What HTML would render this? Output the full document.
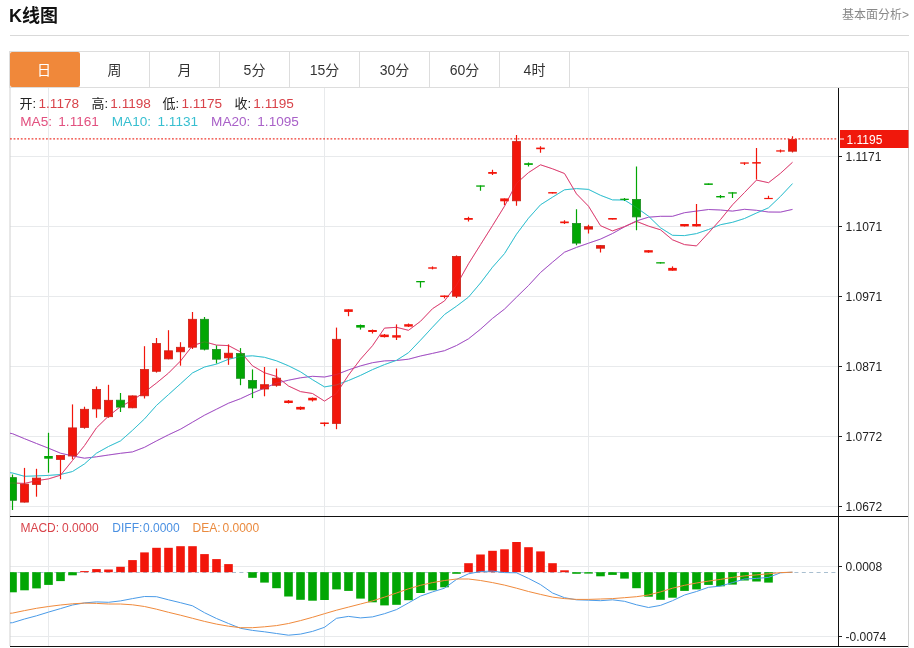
<!DOCTYPE html>
<html lang="zh-CN"><head><meta charset="utf-8"><title>K线图</title>
<style>
html,body{margin:0;padding:0;background:#fff;}
body{width:914px;height:648px;position:relative;overflow:hidden;font-family:"Liberation Sans","Noto Sans CJK SC",sans-serif;}
.title{position:absolute;left:9px;top:3.5px;font-size:18px;letter-spacing:0px;font-weight:bold;color:#111;line-height:24px;white-space:nowrap;}
.more{position:absolute;right:5px;top:6px;font-size:12px;color:#888;line-height:18px;white-space:nowrap;}
.hr{position:absolute;left:10px;top:35px;width:899px;height:1px;background:#d9d9d9;}
.tabs{position:absolute;left:9px;top:51px;width:898px;height:35px;border:1px solid #ddd;box-sizing:content-box;}
.tab{position:absolute;top:0;width:69px;height:35px;border-right:1px solid #ddd;text-align:center;line-height:36px;font-size:14px;color:#333;}
.tab.on{background:#f0883a;color:#fff;width:68px;padding-right:2px;border-right:none;left:0;border-radius:2px;}
</style></head><body>
<div class="title">K线图</div>
<div class="more">基本面分析&gt;</div>
<div class="hr"></div>
<svg width="914" height="648" viewBox="0 0 914 648" style="position:absolute;left:0;top:0">
<defs><clipPath id="cp"><rect x="10" y="88" width="828.5" height="560"/></clipPath></defs>
<g stroke="#e8eaec" stroke-width="1" shape-rendering="crispEdges">
<line x1="10" x2="838" y1="156.5" y2="156.5"/>
<line x1="10" x2="838" y1="226.5" y2="226.5"/>
<line x1="10" x2="838" y1="296.5" y2="296.5"/>
<line x1="10" x2="838" y1="366.5" y2="366.5"/>
<line x1="10" x2="838" y1="436.5" y2="436.5"/>
<line x1="10" x2="838" y1="506.5" y2="506.5"/>
<line x1="10" x2="838" y1="566.5" y2="566.5"/>
<line x1="10" x2="838" y1="636.5" y2="636.5"/>
<line x1="48.5" x2="48.5" y1="88" y2="646"/>
<line x1="324.5" x2="324.5" y1="88" y2="646"/>
<line x1="588.5" x2="588.5" y1="88" y2="646"/>
</g>
<g stroke="#d0d0d0" stroke-width="1"><line x1="10" x2="10" y1="87" y2="646"/><line x1="908.5" x2="908.5" y1="87" y2="648"/></g>
<line x1="10" x2="838" y1="572.5" y2="572.5" stroke="#a9bfd0" stroke-width="1" stroke-dasharray="4,3.4"/>
<g clip-path="url(#cp)">
<polyline points="0.5,431.5 12.5,433.7 24.5,438.7 36.5,443.5 48.5,448.2 60.5,453.2 72.5,455.9 84.5,458.2 96.5,456.8 108.5,455.0 120.5,453.3 132.5,451.9 144.5,447.3 156.5,440.9 168.5,434.8 180.5,429.2 192.5,422.2 204.5,415.2 216.5,409.2 228.5,403.2 240.5,398.7 252.5,393.1 264.5,388.1 276.5,383.1 288.5,380.2 300.5,377.8 312.5,376.3 324.5,377.0 336.5,374.5 348.5,369.9 360.5,365.9 372.5,362.7 384.5,360.9 396.5,360.5 408.5,359.2 420.5,356.0 432.5,353.4 444.5,350.7 456.5,345.5 468.5,338.8 480.5,329.2 492.5,318.4 504.5,309.1 516.5,297.2 528.5,285.5 540.5,272.5 552.5,262.2 564.5,252.2 576.5,247.4 588.5,243.2 600.5,239.1 612.5,233.5 624.5,226.8 636.5,220.9 648.5,217.2 660.5,216.3 672.5,216.3 684.5,212.7 696.5,211.1 708.5,209.5 720.5,210.0 732.5,211.1 744.5,209.3 756.5,210.3 768.5,212.0 780.5,212.1 792.5,209.4" fill="none" stroke="#a352c4" stroke-width="1.0" stroke-linejoin="round"/>
<polyline points="0.5,471.5 12.5,473.0 24.5,476.3 36.5,475.9 48.5,475.4 60.5,474.5 72.5,471.5 84.5,463.9 96.5,453.2 108.5,446.5 120.5,440.9 132.5,430.3 144.5,418.9 156.5,405.4 168.5,394.6 180.5,383.8 192.5,372.9 204.5,367.0 216.5,364.1 228.5,359.3 240.5,356.5 252.5,355.8 264.5,357.3 276.5,360.8 288.5,365.8 300.5,371.8 312.5,379.7 324.5,386.9 336.5,384.9 348.5,380.5 360.5,375.4 372.5,369.6 384.5,364.6 396.5,360.3 408.5,352.7 420.5,340.2 432.5,327.2 444.5,314.5 456.5,306.2 468.5,297.1 480.5,283.0 492.5,267.2 504.5,253.6 516.5,234.2 528.5,218.2 540.5,204.8 552.5,197.2 564.5,189.8 576.5,188.6 588.5,189.4 600.5,195.3 612.5,199.9 624.5,200.0 636.5,207.6 648.5,216.2 660.5,227.8 672.5,235.3 684.5,235.6 696.5,233.6 708.5,229.5 720.5,224.7 732.5,222.3 744.5,218.5 756.5,213.0 768.5,207.8 780.5,196.4 792.5,183.6" fill="none" stroke="#35c0d0" stroke-width="1.0" stroke-linejoin="round"/>
<polyline points="0.5,483.0 12.5,483.0 24.5,483.4 36.5,480.7 48.5,478.9 60.5,475.2 72.5,460.5 84.5,445.6 96.5,427.8 108.5,416.1 120.5,406.6 132.5,400.2 144.5,392.2 156.5,383.0 168.5,373.1 180.5,361.0 192.5,345.7 204.5,341.8 216.5,345.1 228.5,345.6 240.5,351.9 252.5,365.8 264.5,372.8 276.5,376.4 288.5,386.0 300.5,391.6 312.5,393.5 324.5,401.1 336.5,393.3 348.5,375.1 360.5,359.2 372.5,345.7 384.5,328.1 396.5,327.3 408.5,330.3 420.5,321.3 432.5,308.7 444.5,300.9 456.5,285.1 468.5,263.8 480.5,244.7 492.5,225.6 504.5,206.2 516.5,183.3 528.5,172.6 540.5,164.8 552.5,168.8 564.5,173.5 576.5,193.9 588.5,206.2 600.5,225.7 612.5,230.9 624.5,226.6 636.5,221.4 648.5,226.1 660.5,229.8 672.5,239.8 684.5,244.6 696.5,245.9 708.5,232.9 720.5,219.6 732.5,204.8 744.5,192.5 756.5,180.1 768.5,182.7 780.5,173.3 792.5,162.3" fill="none" stroke="#dc4273" stroke-width="1.0" stroke-linejoin="round"/>
<line x1="12.5" x2="12.5" y1="474.5" y2="510.0" stroke="#02a604" stroke-width="1.2"/>
<rect x="8.4" y="477.6" width="8.2" height="22.7" fill="#02a604" stroke="#1d8d24" stroke-width="0.8"/>
<line x1="24.5" x2="24.5" y1="467.9" y2="502.5" stroke="#f2160b" stroke-width="1.2"/>
<rect x="20.4" y="484.1" width="8.2" height="18.0" fill="#f2160b" stroke="#c8241a" stroke-width="0.8"/>
<line x1="36.5" x2="36.5" y1="468.8" y2="496.7" stroke="#f2160b" stroke-width="1.2"/>
<rect x="32.4" y="478.1" width="8.2" height="6.3" fill="#f2160b" stroke="#c8241a" stroke-width="0.8"/>
<line x1="48.5" x2="48.5" y1="432.8" y2="472.7" stroke="#02a604" stroke-width="1.2"/>
<rect x="44.2" y="456.0" width="8.6" height="2.7" fill="#02a604"/>
<line x1="60.5" x2="60.5" y1="455.0" y2="479.3" stroke="#f2160b" stroke-width="1.2"/>
<rect x="56.4" y="455.4" width="8.2" height="4.0" fill="#f2160b" stroke="#c8241a" stroke-width="0.8"/>
<line x1="72.5" x2="72.5" y1="404.4" y2="459.4" stroke="#f2160b" stroke-width="1.2"/>
<rect x="68.4" y="427.9" width="8.2" height="28.1" fill="#f2160b" stroke="#c8241a" stroke-width="0.8"/>
<line x1="84.5" x2="84.5" y1="406.7" y2="428.7" stroke="#f2160b" stroke-width="1.2"/>
<rect x="80.4" y="409.3" width="8.2" height="18.1" fill="#f2160b" stroke="#c8241a" stroke-width="0.8"/>
<line x1="96.5" x2="96.5" y1="386.5" y2="417.8" stroke="#f2160b" stroke-width="1.2"/>
<rect x="92.4" y="389.4" width="8.2" height="19.5" fill="#f2160b" stroke="#c8241a" stroke-width="0.8"/>
<line x1="108.5" x2="108.5" y1="384.8" y2="417.8" stroke="#f2160b" stroke-width="1.2"/>
<rect x="104.4" y="400.3" width="8.2" height="16.4" fill="#f2160b" stroke="#c8241a" stroke-width="0.8"/>
<line x1="120.5" x2="120.5" y1="393.0" y2="412.0" stroke="#02a604" stroke-width="1.2"/>
<rect x="116.4" y="400.2" width="8.2" height="6.9" fill="#02a604" stroke="#1d8d24" stroke-width="0.8"/>
<line x1="132.5" x2="132.5" y1="395.5" y2="408.2" stroke="#f2160b" stroke-width="1.2"/>
<rect x="128.4" y="395.9" width="8.2" height="11.9" fill="#f2160b" stroke="#c8241a" stroke-width="0.8"/>
<line x1="144.5" x2="144.5" y1="346.2" y2="398.5" stroke="#f2160b" stroke-width="1.2"/>
<rect x="140.4" y="369.5" width="8.2" height="26.3" fill="#f2160b" stroke="#c8241a" stroke-width="0.8"/>
<line x1="156.5" x2="156.5" y1="338.0" y2="372.6" stroke="#f2160b" stroke-width="1.2"/>
<rect x="152.4" y="343.5" width="8.2" height="27.8" fill="#f2160b" stroke="#c8241a" stroke-width="0.8"/>
<line x1="168.5" x2="168.5" y1="330.2" y2="359.3" stroke="#f2160b" stroke-width="1.2"/>
<rect x="164.4" y="350.8" width="8.2" height="8.1" fill="#f2160b" stroke="#c8241a" stroke-width="0.8"/>
<line x1="180.5" x2="180.5" y1="342.2" y2="365.7" stroke="#f2160b" stroke-width="1.2"/>
<rect x="176.4" y="347.3" width="8.2" height="4.5" fill="#f2160b" stroke="#c8241a" stroke-width="0.8"/>
<line x1="192.5" x2="192.5" y1="312.0" y2="349.0" stroke="#f2160b" stroke-width="1.2"/>
<rect x="188.4" y="319.3" width="8.2" height="27.9" fill="#f2160b" stroke="#c8241a" stroke-width="0.8"/>
<line x1="204.5" x2="204.5" y1="317.0" y2="350.4" stroke="#02a604" stroke-width="1.2"/>
<rect x="200.4" y="319.3" width="8.2" height="29.9" fill="#02a604" stroke="#1d8d24" stroke-width="0.8"/>
<line x1="216.5" x2="216.5" y1="345.4" y2="363.5" stroke="#02a604" stroke-width="1.2"/>
<rect x="212.4" y="349.4" width="8.2" height="9.8" fill="#02a604" stroke="#1d8d24" stroke-width="0.8"/>
<line x1="228.5" x2="228.5" y1="344.4" y2="364.8" stroke="#f2160b" stroke-width="1.2"/>
<rect x="224.4" y="353.2" width="8.2" height="4.7" fill="#f2160b" stroke="#c8241a" stroke-width="0.8"/>
<line x1="240.5" x2="240.5" y1="348.1" y2="385.2" stroke="#02a604" stroke-width="1.2"/>
<rect x="236.4" y="353.5" width="8.2" height="24.8" fill="#02a604" stroke="#1d8d24" stroke-width="0.8"/>
<line x1="252.5" x2="252.5" y1="369.4" y2="398.1" stroke="#02a604" stroke-width="1.2"/>
<rect x="248.4" y="380.4" width="8.2" height="7.7" fill="#02a604" stroke="#1d8d24" stroke-width="0.8"/>
<line x1="264.5" x2="264.5" y1="367.0" y2="396.3" stroke="#f2160b" stroke-width="1.2"/>
<rect x="260.4" y="384.7" width="8.2" height="4.3" fill="#f2160b" stroke="#c8241a" stroke-width="0.8"/>
<line x1="276.5" x2="276.5" y1="368.5" y2="386.7" stroke="#f2160b" stroke-width="1.2"/>
<rect x="272.4" y="378.2" width="8.2" height="7.1" fill="#f2160b" stroke="#c8241a" stroke-width="0.8"/>
<line x1="288.5" x2="288.5" y1="400.0" y2="403.5" stroke="#f2160b" stroke-width="1.2"/>
<rect x="284.2" y="400.6" width="8.6" height="2.4" fill="#f2160b"/>
<line x1="300.5" x2="300.5" y1="406.5" y2="410.0" stroke="#f2160b" stroke-width="1.2"/>
<rect x="296.2" y="406.9" width="8.6" height="2.6" fill="#f2160b"/>
<line x1="312.5" x2="312.5" y1="397.5" y2="401.5" stroke="#f2160b" stroke-width="1.2"/>
<rect x="308.2" y="397.8" width="8.6" height="2.6" fill="#f2160b"/>
<line x1="324.5" x2="324.5" y1="422.5" y2="426.3" stroke="#f2160b" stroke-width="1.2"/>
<rect x="320.2" y="422.5" width="8.6" height="1.5" fill="#f2160b"/>
<line x1="336.5" x2="336.5" y1="327.6" y2="429.2" stroke="#f2160b" stroke-width="1.2"/>
<rect x="332.4" y="339.3" width="8.2" height="84.1" fill="#f2160b" stroke="#c8241a" stroke-width="0.8"/>
<line x1="348.5" x2="348.5" y1="309.3" y2="316.2" stroke="#f2160b" stroke-width="1.2"/>
<rect x="344.2" y="309.3" width="8.6" height="2.6" fill="#f2160b"/>
<line x1="360.5" x2="360.5" y1="324.5" y2="329.6" stroke="#02a604" stroke-width="1.2"/>
<rect x="356.2" y="325.0" width="8.6" height="2.6" fill="#02a604"/>
<line x1="372.5" x2="372.5" y1="329.5" y2="333.5" stroke="#f2160b" stroke-width="1.2"/>
<rect x="368.2" y="330.0" width="8.6" height="2.0" fill="#f2160b"/>
<line x1="384.5" x2="384.5" y1="334.0" y2="337.5" stroke="#f2160b" stroke-width="1.2"/>
<rect x="380.2" y="334.6" width="8.6" height="2.5" fill="#f2160b"/>
<line x1="396.5" x2="396.5" y1="324.4" y2="340.0" stroke="#f2160b" stroke-width="1.2"/>
<rect x="392.2" y="335.2" width="8.6" height="2.4" fill="#f2160b"/>
<line x1="408.5" x2="408.5" y1="323.5" y2="327.0" stroke="#f2160b" stroke-width="1.2"/>
<rect x="404.2" y="324.2" width="8.6" height="2.4" fill="#f2160b"/>
<line x1="420.5" x2="420.5" y1="281.0" y2="287.6" stroke="#02a604" stroke-width="1.2"/>
<rect x="416.2" y="281.0" width="8.6" height="1.3" fill="#02a604"/>
<line x1="432.5" x2="432.5" y1="266.4" y2="269.4" stroke="#f2160b" stroke-width="1.2"/>
<rect x="428.2" y="267.3" width="8.6" height="1.4" fill="#f2160b"/>
<line x1="444.5" x2="444.5" y1="295.5" y2="298.4" stroke="#f2160b" stroke-width="1.2"/>
<rect x="440.2" y="295.5" width="8.6" height="1.5" fill="#f2160b"/>
<line x1="456.5" x2="456.5" y1="255.4" y2="298.0" stroke="#f2160b" stroke-width="1.2"/>
<rect x="452.4" y="256.4" width="8.2" height="39.8" fill="#f2160b" stroke="#c8241a" stroke-width="0.8"/>
<line x1="468.5" x2="468.5" y1="216.7" y2="221.5" stroke="#f2160b" stroke-width="1.2"/>
<rect x="464.2" y="218.0" width="8.6" height="1.8" fill="#f2160b"/>
<line x1="480.5" x2="480.5" y1="185.4" y2="190.8" stroke="#02a604" stroke-width="1.2"/>
<rect x="476.2" y="185.4" width="8.6" height="1.3" fill="#02a604"/>
<line x1="492.5" x2="492.5" y1="169.7" y2="175.0" stroke="#f2160b" stroke-width="1.2"/>
<rect x="488.2" y="172.0" width="8.6" height="1.8" fill="#f2160b"/>
<line x1="504.5" x2="504.5" y1="198.4" y2="204.9" stroke="#f2160b" stroke-width="1.2"/>
<rect x="500.2" y="198.4" width="8.6" height="2.9" fill="#f2160b"/>
<line x1="516.5" x2="516.5" y1="135.1" y2="205.7" stroke="#f2160b" stroke-width="1.2"/>
<rect x="512.4" y="141.6" width="8.2" height="59.2" fill="#f2160b" stroke="#c8241a" stroke-width="0.8"/>
<line x1="528.5" x2="528.5" y1="162.4" y2="166.4" stroke="#02a604" stroke-width="1.2"/>
<rect x="524.2" y="163.2" width="8.6" height="1.7" fill="#02a604"/>
<line x1="540.5" x2="540.5" y1="146.3" y2="152.8" stroke="#f2160b" stroke-width="1.2"/>
<rect x="536.2" y="147.6" width="8.6" height="1.6" fill="#f2160b"/>
<line x1="552.5" x2="552.5" y1="192.1" y2="193.5" stroke="#f2160b" stroke-width="1.2"/>
<rect x="548.2" y="192.1" width="8.6" height="1.4" fill="#f2160b"/>
<line x1="564.5" x2="564.5" y1="220.2" y2="224.1" stroke="#f2160b" stroke-width="1.2"/>
<rect x="560.2" y="221.5" width="8.6" height="1.7" fill="#f2160b"/>
<line x1="576.5" x2="576.5" y1="209.2" y2="245.3" stroke="#02a604" stroke-width="1.2"/>
<rect x="572.4" y="223.4" width="8.2" height="19.7" fill="#02a604" stroke="#1d8d24" stroke-width="0.8"/>
<line x1="588.5" x2="588.5" y1="224.8" y2="233.4" stroke="#f2160b" stroke-width="1.2"/>
<rect x="584.4" y="226.7" width="8.2" height="2.4" fill="#f2160b" stroke="#c8241a" stroke-width="0.8"/>
<line x1="600.5" x2="600.5" y1="245.2" y2="252.4" stroke="#f2160b" stroke-width="1.2"/>
<rect x="596.4" y="245.6" width="8.2" height="2.6" fill="#f2160b" stroke="#c8241a" stroke-width="0.8"/>
<line x1="612.5" x2="612.5" y1="218.0" y2="219.6" stroke="#f2160b" stroke-width="1.2"/>
<rect x="608.2" y="218.0" width="8.6" height="1.6" fill="#f2160b"/>
<line x1="624.5" x2="624.5" y1="197.9" y2="201.0" stroke="#02a604" stroke-width="1.2"/>
<rect x="620.2" y="198.7" width="8.6" height="1.3" fill="#02a604"/>
<line x1="636.5" x2="636.5" y1="166.6" y2="230.3" stroke="#02a604" stroke-width="1.2"/>
<rect x="632.4" y="199.4" width="8.2" height="17.5" fill="#02a604" stroke="#1d8d24" stroke-width="0.8"/>
<line x1="648.5" x2="648.5" y1="250.0" y2="252.7" stroke="#f2160b" stroke-width="1.2"/>
<rect x="644.2" y="250.2" width="8.6" height="2.3" fill="#f2160b"/>
<line x1="660.5" x2="660.5" y1="262.2" y2="263.5" stroke="#02a604" stroke-width="1.2"/>
<rect x="656.2" y="262.2" width="8.6" height="1.3" fill="#02a604"/>
<line x1="672.5" x2="672.5" y1="266.4" y2="270.7" stroke="#f2160b" stroke-width="1.2"/>
<rect x="668.2" y="267.9" width="8.6" height="2.8" fill="#f2160b"/>
<line x1="684.5" x2="684.5" y1="224.0" y2="226.4" stroke="#f2160b" stroke-width="1.2"/>
<rect x="680.2" y="224.0" width="8.6" height="2.4" fill="#f2160b"/>
<line x1="696.5" x2="696.5" y1="204.1" y2="226.4" stroke="#f2160b" stroke-width="1.2"/>
<rect x="692.2" y="224.0" width="8.6" height="2.4" fill="#f2160b"/>
<line x1="708.5" x2="708.5" y1="183.4" y2="184.9" stroke="#02a604" stroke-width="1.2"/>
<rect x="704.2" y="183.4" width="8.6" height="1.5" fill="#02a604"/>
<line x1="720.5" x2="720.5" y1="194.9" y2="198.3" stroke="#02a604" stroke-width="1.2"/>
<rect x="716.2" y="196.0" width="8.6" height="1.4" fill="#02a604"/>
<line x1="732.5" x2="732.5" y1="192.3" y2="197.9" stroke="#02a604" stroke-width="1.2"/>
<rect x="728.2" y="192.3" width="8.6" height="1.3" fill="#02a604"/>
<line x1="744.5" x2="744.5" y1="162.4" y2="164.9" stroke="#f2160b" stroke-width="1.2"/>
<rect x="740.2" y="162.4" width="8.6" height="1.3" fill="#f2160b"/>
<line x1="756.5" x2="756.5" y1="147.9" y2="179.6" stroke="#f2160b" stroke-width="1.2"/>
<rect x="752.2" y="162.1" width="8.6" height="1.5" fill="#f2160b"/>
<line x1="768.5" x2="768.5" y1="195.8" y2="199.0" stroke="#f2160b" stroke-width="1.2"/>
<rect x="764.2" y="197.9" width="8.6" height="1.2" fill="#f2160b"/>
<line x1="780.5" x2="780.5" y1="149.6" y2="152.4" stroke="#f2160b" stroke-width="1.2"/>
<rect x="776.2" y="150.3" width="8.6" height="1.3" fill="#f2160b"/>
<line x1="792.5" x2="792.5" y1="136.2" y2="152.4" stroke="#f2160b" stroke-width="1.2"/>
<rect x="788.4" y="139.4" width="8.2" height="11.8" fill="#f2160b" stroke="#c8241a" stroke-width="0.8"/>
<rect x="8.2" y="572.2" width="8.6" height="20.1" fill="#02a604"/>
<rect x="20.2" y="572.2" width="8.6" height="18.1" fill="#02a604"/>
<rect x="32.2" y="572.2" width="8.6" height="16.2" fill="#02a604"/>
<rect x="44.2" y="572.2" width="8.6" height="12.7" fill="#02a604"/>
<rect x="56.2" y="572.2" width="8.6" height="8.9" fill="#02a604"/>
<rect x="68.2" y="572.2" width="8.6" height="3.1" fill="#02a604"/>
<rect x="80.2" y="571.1" width="8.6" height="1.1" fill="#f2160b"/>
<rect x="92.2" y="569.1" width="8.6" height="3.1" fill="#f2160b"/>
<rect x="104.2" y="569.5" width="8.6" height="2.7" fill="#f2160b"/>
<rect x="116.2" y="566.8" width="8.6" height="5.4" fill="#f2160b"/>
<rect x="128.2" y="560.1" width="8.6" height="12.1" fill="#f2160b"/>
<rect x="140.2" y="552.4" width="8.6" height="19.8" fill="#f2160b"/>
<rect x="152.2" y="547.8" width="8.6" height="24.4" fill="#f2160b"/>
<rect x="164.2" y="547.8" width="8.6" height="24.4" fill="#f2160b"/>
<rect x="176.2" y="546.2" width="8.6" height="26.0" fill="#f2160b"/>
<rect x="188.2" y="546.2" width="8.6" height="26.0" fill="#f2160b"/>
<rect x="200.2" y="554.1" width="8.6" height="18.1" fill="#f2160b"/>
<rect x="212.2" y="559.1" width="8.6" height="13.1" fill="#f2160b"/>
<rect x="224.2" y="564.1" width="8.6" height="8.1" fill="#f2160b"/>
<rect x="248.2" y="572.2" width="8.6" height="5.6" fill="#02a604"/>
<rect x="260.2" y="572.2" width="8.6" height="10.4" fill="#02a604"/>
<rect x="272.2" y="572.2" width="8.6" height="16.0" fill="#02a604"/>
<rect x="284.2" y="572.2" width="8.6" height="24.3" fill="#02a604"/>
<rect x="296.2" y="572.2" width="8.6" height="27.6" fill="#02a604"/>
<rect x="308.2" y="572.2" width="8.6" height="28.5" fill="#02a604"/>
<rect x="320.2" y="572.2" width="8.6" height="27.8" fill="#02a604"/>
<rect x="332.2" y="572.2" width="8.6" height="17.2" fill="#02a604"/>
<rect x="344.2" y="572.2" width="8.6" height="18.7" fill="#02a604"/>
<rect x="356.2" y="572.2" width="8.6" height="26.4" fill="#02a604"/>
<rect x="368.2" y="572.2" width="8.6" height="30.1" fill="#02a604"/>
<rect x="380.2" y="572.2" width="8.6" height="33.2" fill="#02a604"/>
<rect x="392.2" y="572.2" width="8.6" height="32.6" fill="#02a604"/>
<rect x="404.2" y="572.2" width="8.6" height="28.0" fill="#02a604"/>
<rect x="416.2" y="572.2" width="8.6" height="20.8" fill="#02a604"/>
<rect x="428.2" y="572.2" width="8.6" height="18.1" fill="#02a604"/>
<rect x="440.2" y="572.2" width="8.6" height="15.1" fill="#02a604"/>
<rect x="452.2" y="572.2" width="8.6" height="1.6" fill="#02a604"/>
<rect x="464.2" y="563.2" width="8.6" height="9.0" fill="#f2160b"/>
<rect x="476.2" y="554.5" width="8.6" height="17.7" fill="#f2160b"/>
<rect x="488.2" y="550.8" width="8.6" height="21.4" fill="#f2160b"/>
<rect x="500.2" y="549.3" width="8.6" height="22.9" fill="#f2160b"/>
<rect x="512.2" y="542.0" width="8.6" height="30.2" fill="#f2160b"/>
<rect x="524.2" y="547.2" width="8.6" height="25.0" fill="#f2160b"/>
<rect x="536.2" y="551.4" width="8.6" height="20.8" fill="#f2160b"/>
<rect x="548.2" y="563.2" width="8.6" height="9.0" fill="#f2160b"/>
<rect x="560.2" y="570.3" width="8.6" height="1.9" fill="#f2160b"/>
<rect x="572.2" y="572.2" width="8.6" height="1.6" fill="#02a604"/>
<rect x="584.2" y="572.2" width="8.6" height="1.4" fill="#02a604"/>
<rect x="596.2" y="572.2" width="8.6" height="4.1" fill="#02a604"/>
<rect x="608.2" y="572.2" width="8.6" height="2.7" fill="#02a604"/>
<rect x="620.2" y="572.2" width="8.6" height="6.4" fill="#02a604"/>
<rect x="632.2" y="572.2" width="8.6" height="16.0" fill="#02a604"/>
<rect x="644.2" y="572.2" width="8.6" height="24.5" fill="#02a604"/>
<rect x="656.2" y="572.2" width="8.6" height="27.6" fill="#02a604"/>
<rect x="668.2" y="572.2" width="8.6" height="25.5" fill="#02a604"/>
<rect x="680.2" y="572.2" width="8.6" height="18.7" fill="#02a604"/>
<rect x="692.2" y="572.2" width="8.6" height="17.2" fill="#02a604"/>
<rect x="704.2" y="572.2" width="8.6" height="12.7" fill="#02a604"/>
<rect x="716.2" y="572.2" width="8.6" height="14.1" fill="#02a604"/>
<rect x="728.2" y="572.2" width="8.6" height="12.4" fill="#02a604"/>
<rect x="740.2" y="572.2" width="8.6" height="8.3" fill="#02a604"/>
<rect x="752.2" y="572.2" width="8.6" height="9.3" fill="#02a604"/>
<rect x="764.2" y="572.2" width="8.6" height="10.4" fill="#02a604"/>
<g opacity="0.25">
<polyline points="0.5,431.5 12.5,433.7 24.5,438.7 36.5,443.5 48.5,448.2 60.5,453.2 72.5,455.9 84.5,458.2 96.5,456.8 108.5,455.0 120.5,453.3 132.5,451.9 144.5,447.3 156.5,440.9 168.5,434.8 180.5,429.2 192.5,422.2 204.5,415.2 216.5,409.2 228.5,403.2 240.5,398.7 252.5,393.1 264.5,388.1 276.5,383.1 288.5,380.2 300.5,377.8 312.5,376.3 324.5,377.0 336.5,374.5 348.5,369.9 360.5,365.9 372.5,362.7 384.5,360.9 396.5,360.5 408.5,359.2 420.5,356.0 432.5,353.4 444.5,350.7 456.5,345.5 468.5,338.8 480.5,329.2 492.5,318.4 504.5,309.1 516.5,297.2 528.5,285.5 540.5,272.5 552.5,262.2 564.5,252.2 576.5,247.4 588.5,243.2 600.5,239.1 612.5,233.5 624.5,226.8 636.5,220.9 648.5,217.2 660.5,216.3 672.5,216.3 684.5,212.7 696.5,211.1 708.5,209.5 720.5,210.0 732.5,211.1 744.5,209.3 756.5,210.3 768.5,212.0 780.5,212.1 792.5,209.4" fill="none" stroke="#a352c4" stroke-width="1.0" stroke-linejoin="round"/>
<polyline points="0.5,471.5 12.5,473.0 24.5,476.3 36.5,475.9 48.5,475.4 60.5,474.5 72.5,471.5 84.5,463.9 96.5,453.2 108.5,446.5 120.5,440.9 132.5,430.3 144.5,418.9 156.5,405.4 168.5,394.6 180.5,383.8 192.5,372.9 204.5,367.0 216.5,364.1 228.5,359.3 240.5,356.5 252.5,355.8 264.5,357.3 276.5,360.8 288.5,365.8 300.5,371.8 312.5,379.7 324.5,386.9 336.5,384.9 348.5,380.5 360.5,375.4 372.5,369.6 384.5,364.6 396.5,360.3 408.5,352.7 420.5,340.2 432.5,327.2 444.5,314.5 456.5,306.2 468.5,297.1 480.5,283.0 492.5,267.2 504.5,253.6 516.5,234.2 528.5,218.2 540.5,204.8 552.5,197.2 564.5,189.8 576.5,188.6 588.5,189.4 600.5,195.3 612.5,199.9 624.5,200.0 636.5,207.6 648.5,216.2 660.5,227.8 672.5,235.3 684.5,235.6 696.5,233.6 708.5,229.5 720.5,224.7 732.5,222.3 744.5,218.5 756.5,213.0 768.5,207.8 780.5,196.4 792.5,183.6" fill="none" stroke="#35c0d0" stroke-width="1.0" stroke-linejoin="round"/>
<polyline points="0.5,483.0 12.5,483.0 24.5,483.4 36.5,480.7 48.5,478.9 60.5,475.2 72.5,460.5 84.5,445.6 96.5,427.8 108.5,416.1 120.5,406.6 132.5,400.2 144.5,392.2 156.5,383.0 168.5,373.1 180.5,361.0 192.5,345.7 204.5,341.8 216.5,345.1 228.5,345.6 240.5,351.9 252.5,365.8 264.5,372.8 276.5,376.4 288.5,386.0 300.5,391.6 312.5,393.5 324.5,401.1 336.5,393.3 348.5,375.1 360.5,359.2 372.5,345.7 384.5,328.1 396.5,327.3 408.5,330.3 420.5,321.3 432.5,308.7 444.5,300.9 456.5,285.1 468.5,263.8 480.5,244.7 492.5,225.6 504.5,206.2 516.5,183.3 528.5,172.6 540.5,164.8 552.5,168.8 564.5,173.5 576.5,193.9 588.5,206.2 600.5,225.7 612.5,230.9 624.5,226.6 636.5,221.4 648.5,226.1 660.5,229.8 672.5,239.8 684.5,244.6 696.5,245.9 708.5,232.9 720.5,219.6 732.5,204.8 744.5,192.5 756.5,180.1 768.5,182.7 780.5,173.3 792.5,162.3" fill="none" stroke="#dc4273" stroke-width="1.0" stroke-linejoin="round"/>
</g>
<polyline points="0.5,623.5 12.5,622.7 24.5,619.0 36.5,615.8 48.5,612.1 60.5,608.6 72.5,605.0 84.5,602.9 96.5,601.9 108.5,602.3 120.5,600.9 132.5,598.6 144.5,596.5 156.5,596.7 168.5,599.8 180.5,602.7 192.5,605.8 204.5,612.7 216.5,618.5 228.5,623.5 240.5,628.3 252.5,630.4 264.5,631.8 276.5,633.5 288.5,635.2 300.5,634.1 312.5,631.4 324.5,627.3 336.5,618.3 348.5,616.4 360.5,617.9 372.5,616.9 384.5,613.7 396.5,609.6 408.5,602.9 420.5,596.1 432.5,591.9 444.5,588.2 456.5,579.4 468.5,573.8 480.5,571.5 492.5,571.1 504.5,572.6 516.5,572.8 528.5,578.4 540.5,584.6 552.5,593.0 564.5,597.7 576.5,599.8 588.5,600.2 600.5,600.7 612.5,599.8 624.5,601.3 636.5,604.8 648.5,607.5 660.5,605.4 672.5,600.7 684.5,595.0 696.5,591.5 708.5,587.3 720.5,586.1 732.5,582.6 744.5,579.0 756.5,578.4 768.5,577.4 780.5,572.8 792.5,572.2" fill="none" stroke="#4a9be8" stroke-width="1.0" stroke-linejoin="round"/>
<polyline points="0.5,613.8 12.5,613.1 24.5,610.6 36.5,608.3 48.5,606.5 60.5,605.0 72.5,603.8 84.5,603.1 96.5,603.4 108.5,604.0 120.5,604.0 132.5,604.8 144.5,606.5 156.5,609.2 168.5,612.3 180.5,615.2 192.5,618.3 204.5,621.4 216.5,624.1 228.5,626.2 240.5,627.7 252.5,627.7 264.5,626.8 276.5,625.6 288.5,623.5 300.5,620.6 312.5,617.3 324.5,613.7 336.5,610.2 348.5,607.1 360.5,604.0 372.5,600.9 384.5,597.1 396.5,593.0 408.5,588.8 420.5,585.3 432.5,582.6 444.5,580.5 456.5,579.0 468.5,579.0 480.5,580.5 492.5,582.6 504.5,585.1 516.5,588.2 528.5,591.5 540.5,594.4 552.5,597.1 564.5,598.6 576.5,599.4 588.5,599.4 600.5,599.0 612.5,598.6 624.5,597.7 636.5,596.7 648.5,595.0 660.5,591.9 672.5,588.2 684.5,585.3 696.5,583.0 708.5,581.1 720.5,579.4 732.5,577.4 744.5,575.9 756.5,574.9 768.5,573.8 780.5,572.6 792.5,572.2" fill="none" stroke="#f08a3c" stroke-width="1.0" stroke-linejoin="round"/>
</g>
<line x1="10" x2="838" y1="138.9" y2="138.9" stroke="#ee3a30" stroke-width="1.2" stroke-dasharray="1.8,1.8"/>
<g stroke="#111" shape-rendering="crispEdges"><line x1="838.5" x2="838.5" y1="88" y2="647" stroke-width="1"/><line x1="10" x2="908" y1="516.5" y2="516.5" stroke-width="1"/><line x1="10" x2="908" y1="646.5" y2="646.5" stroke-width="1"/></g>
<g stroke="#222" stroke-width="1" shape-rendering="crispEdges">
<line x1="839" x2="842" y1="156.5" y2="156.5"/>
<line x1="839" x2="842" y1="226.5" y2="226.5"/>
<line x1="839" x2="842" y1="296.5" y2="296.5"/>
<line x1="839" x2="842" y1="366.5" y2="366.5"/>
<line x1="839" x2="842" y1="436.5" y2="436.5"/>
<line x1="839" x2="842" y1="506.5" y2="506.5"/>
<line x1="839" x2="842" y1="566.5" y2="566.5"/>
<line x1="839" x2="842" y1="636.5" y2="636.5"/>
</g>
<g font-family="'Liberation Sans',sans-serif" font-size="12" fill="#222">
<text x="845.5" y="160.5">1.1171</text>
<text x="845.5" y="230.5">1.1071</text>
<text x="845.5" y="300.5">1.0971</text>
<text x="845.5" y="370.5">1.0871</text>
<text x="845.5" y="440.5">1.0772</text>
<text x="845.5" y="510.5">1.0672</text>
<text x="845.5" y="570.5">0.0008</text>
<text x="845.5" y="640.5">-0.0074</text>
</g>
<rect x="840" y="130" width="68.5" height="18" fill="#f0180c"/>
<line x1="840" x2="844" y1="139" y2="139" stroke="#fff" stroke-width="1"/>
<text x="846.5" y="143.7" font-family="'Liberation Sans',sans-serif" font-size="12" fill="#fff">1.1195</text>
<g font-family="'Liberation Sans','Noto Sans CJK SC',sans-serif" font-size="13">
<text x="19.6" y="108.2" fill="#222">开:</text><text x="38.5" y="108.4" font-size="13.6" fill="#d8434a">1.1178</text>
<text x="91.4" y="108.2" fill="#222">高:</text><text x="110.3" y="108.4" font-size="13.6" fill="#d8434a">1.1198</text>
<text x="162.6" y="108.2" fill="#222">低:</text><text x="181.5" y="108.4" font-size="13.6" fill="#d8434a">1.1175</text>
<text x="234.4" y="108.2" fill="#222">收:</text><text x="253.3" y="108.4" font-size="13.6" fill="#d8434a">1.1195</text>
<text x="20.3" y="126.3" font-size="13.6" fill="#e2507f">MA5:</text><text x="58.3" y="126.3" font-size="13.6" fill="#e2507f">1.1161</text>
<text x="111.8" y="126.3" font-size="13.6" fill="#38bfd0">MA10:</text><text x="157.5" y="126.3" font-size="13.6" fill="#38bfd0">1.1131</text>
<text x="211.1" y="126.3" font-size="13.6" fill="#a961c8">MA20:</text><text x="257.3" y="126.3" font-size="13.6" fill="#a961c8">1.1095</text>
</g>
<g font-family="'Liberation Sans',sans-serif" font-size="12">
<text x="20.4" y="531.6" fill="#d8434a">MACD:</text><text x="62" y="531.6" fill="#d8434a">0.0000</text>
<text x="112.3" y="531.6" fill="#4a90e2">DIFF:</text><text x="143" y="531.6" fill="#4a90e2">0.0000</text>
<text x="192.5" y="531.6" fill="#ea8a3e">DEA:</text><text x="222.5" y="531.6" fill="#ea8a3e">0.0000</text>
</g>
</svg>
<div class="tabs"><div class="tab on" style="left:0px">日</div><div class="tab" style="left:70px">周</div><div class="tab" style="left:140px">月</div><div class="tab" style="left:210px">5分</div><div class="tab" style="left:280px">15分</div><div class="tab" style="left:350px">30分</div><div class="tab" style="left:420px">60分</div><div class="tab" style="left:490px">4时</div></div>
</body></html>
